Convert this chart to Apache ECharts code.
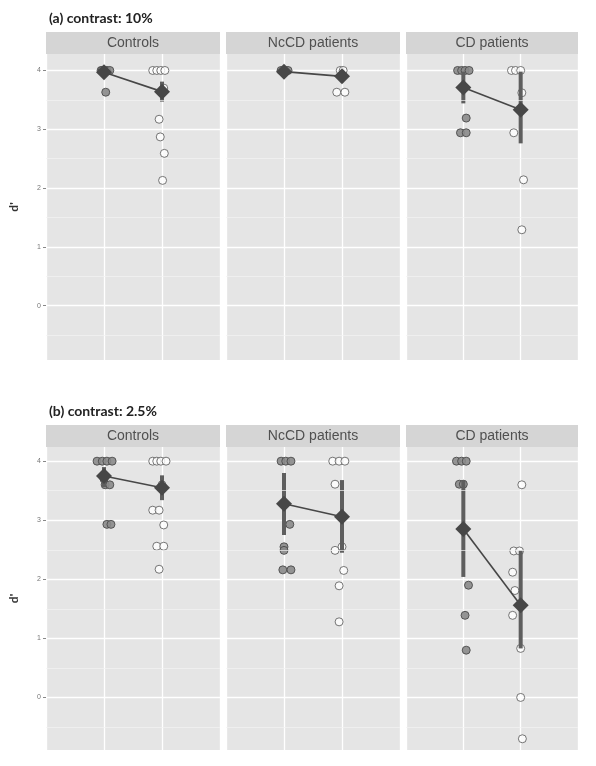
<!DOCTYPE html>
<html>
<head>
<meta charset="utf-8">
<script src="https://cdn.jsdelivr.net/npm/echarts@6/dist/echarts.min.js"></script>
<style>
  html, body { margin: 0; background: #fff; }
  #chart { width: 596px; height: 766px; }
</style>
</head>
<body>
<div id="chart"></div>
<script>
const facets = ['Controls', 'NcCD patients', 'CD patients'];
const rowTitles = ['(a) contrast: 10%', '(b) contrast: 2.5%'];
const yTicks = [0, 1, 2, 3, 4];
const minorLines = [-0.5, 0.5, 1.5, 2.5, 3.5];

// individual scores as [x position incl. jitter, d'], grey = first condition, white = second
const aControlsGrey = [[0.95, 4], [1.0, 4], [1.05, 4], [1.1, 4], [0.97, 4], [1.03, 3.63]];
const aControlsWhite = [[1.84, 4], [1.91, 4], [1.98, 4], [2.05, 4], [2.0, 3.63], [2.03, 3.7], [1.95, 3.17], [1.97, 2.87], [2.04, 2.59], [2.01, 2.13]];
const aNcCDGrey = [[0.95, 4], [1.02, 4], [1.07, 4]];
const aNcCDWhite = [[1.97, 4], [2.02, 4], [1.91, 3.63], [2.05, 3.63]];
const aCDGrey = [[0.9, 4], [0.97, 4], [1.03, 4], [1.1, 4], [1.05, 3.19], [0.95, 2.94], [1.05, 2.94]];
const aCDWhite = [[1.84, 4], [1.91, 4], [2.0, 4], [2.02, 3.62], [1.88, 2.94], [2.05, 2.14], [2.02, 1.29]];

const bControlsGrey = [[0.88, 4], [0.97, 4], [1.05, 4], [1.14, 4], [1.0, 3.7], [1.02, 3.6], [1.1, 3.6], [1.05, 2.93], [1.12, 2.93]];
const bControlsWhite = [[1.84, 4], [1.91, 4], [1.98, 4], [2.07, 4], [2.0, 3.6], [1.84, 3.17], [1.95, 3.17], [2.03, 2.92], [1.91, 2.56], [2.03, 2.56], [1.95, 2.17]];
const bNcCDGrey = [[0.95, 4], [1.03, 4], [1.12, 4], [1.1, 2.93], [1.0, 2.55], [1.0, 2.49], [0.98, 2.16], [1.12, 2.16]];
const bNcCDWhite = [[1.84, 4], [1.95, 4], [2.05, 4], [1.88, 3.61], [2.0, 2.55], [1.88, 2.49], [2.03, 2.15], [1.95, 1.89], [1.95, 1.28]];
const bCDGrey = [[0.88, 4], [0.97, 4], [1.05, 4], [0.93, 3.61], [1.0, 3.61], [1.09, 1.9], [1.03, 1.39], [1.05, 0.8]];
const bCDWhite = [[2.02, 3.6], [1.88, 2.48], [1.98, 2.48], [1.86, 2.12], [1.9, 1.81], [1.86, 1.39], [2.0, 0.83], [2.0, 0], [2.03, -0.7]];

// group means and error-bar limits [low, high] for condition 1 and 2
const aControlsMean = [3.97, 3.64];
const aControlsErr = [[3.93, 4.0], [3.47, 3.81]];
const aNcCDMean = [3.98, 3.9];
const aNcCDErr = [[3.95, 4.0], [3.8, 4.0]];
const aCDMean = [3.71, 3.33];
const aCDErr = [[3.44, 3.98], [2.76, 3.98]];
const bControlsMean = [3.75, 3.55];
const bControlsErr = [[3.56, 3.9], [3.34, 3.76]];
const bNcCDMean = [3.28, 3.06];
const bNcCDErr = [[2.75, 3.8], [2.45, 3.68]];
const bCDMean = [2.85, 1.56];
const bCDErr = [[2.04, 3.68], [0.83, 2.49]];

const panels = [
  [
    { grey: aControlsGrey, white: aControlsWhite, mean: aControlsMean, err: aControlsErr },
    { grey: aNcCDGrey, white: aNcCDWhite, mean: aNcCDMean, err: aNcCDErr },
    { grey: aCDGrey, white: aCDWhite, mean: aCDMean, err: aCDErr },
  ],
  [
    { grey: bControlsGrey, white: bControlsWhite, mean: bControlsMean, err: bControlsErr },
    { grey: bNcCDGrey, white: bNcCDWhite, mean: bNcCDMean, err: bNcCDErr },
    { grey: bCDGrey, white: bCDWhite, mean: bCDMean, err: bCDErr },
  ],
];

// layout
const cols = [{ left: 46, width: 174 }, { left: 226, width: 174 }, { left: 406, width: 172 }];
const rows = [
  { top: 54, height: 306, min: -0.925, max: 4.28, titleTop: 6 },
  { top: 447, height: 303, min: -0.89, max: 4.24, titleTop: 399 },
];
const stripH = 22;

const chart = echarts.init(document.getElementById('chart'));

const grid = [], xAxis = [], yAxis = [], series = [], graphic = [], title = [];

rows.forEach((row, r) => {
  title.push({
    text: rowTitles[r],
    left: 44,
    top: row.titleTop,
    textStyle: { fontFamily: 'Lato', fontWeight: 'bold', fontSize: 14, color: '#222' },
  });
  cols.forEach((col, c) => {
    const idx = r * 3 + c;
    const p = panels[r][c];
    grid.push({
      left: col.left, top: row.top, width: col.width, height: row.height,
      show: true, backgroundColor: '#e5e5e5', borderWidth: 0,
    });
    xAxis.push({
      gridIndex: idx, type: 'value', min: 0, max: 3, interval: 1,
      axisLine: { show: false }, axisTick: { show: false }, axisLabel: { show: false },
      splitLine: { lineStyle: { color: '#fff', width: 1.3 } },
    });
    yAxis.push({
      gridIndex: idx, type: 'value', min: row.min, max: row.max,
      name: c === 0 ? "d'" : '',
      nameLocation: 'middle', nameGap: 26, nameRotate: 90,
      nameTextStyle: { fontFamily: 'Lato', fontWeight: 'bold', fontSize: 12, color: '#333' },
      axisLine: { show: false },
      axisTick: { show: c === 0, length: 3, customValues: yTicks, lineStyle: { color: '#888' } },
      axisLabel: { show: c === 0, customValues: yTicks, fontSize: 7, color: '#777', margin: 5 },
      splitLine: { lineStyle: { color: '#fff', width: 1.3 } },
    });
    graphic.push({
      type: 'rect',
      shape: { x: col.left, y: row.top - stripH, width: col.width, height: stripH },
      style: { fill: '#d5d5d5' },
      silent: true,
    });
    graphic.push({
      type: 'text',
      x: col.left + col.width / 2, y: row.top - stripH / 2,
      style: {
        text: facets[c], fontFamily: 'Liberation Sans', fontSize: 14, fill: '#505050',
        align: 'center', verticalAlign: 'middle',
      },
      silent: true,
    });

    series.push({
      type: 'scatter', xAxisIndex: idx, yAxisIndex: idx, silent: true,
      data: p.grey, symbolSize: 8,
      itemStyle: { color: '#8a8a8a', borderColor: '#4a4a4a', borderWidth: 1, opacity: 0.9 },
      markLine: {
        silent: true, symbol: 'none', label: { show: false },
        lineStyle: { color: '#f3f3f3', width: 0.7, type: 'solid' },
        data: minorLines.map((v) => ({ yAxis: v })),
      },
      z: 3,
    });
    series.push({
      type: 'scatter', xAxisIndex: idx, yAxisIndex: idx, silent: true,
      data: p.white, symbolSize: 8,
      itemStyle: { color: '#ffffff', borderColor: '#555', borderWidth: 1 },
      z: 3,
    });
    series.push({
      type: 'custom', xAxisIndex: idx, yAxisIndex: idx, silent: true,
      data: p.err.map((e, i) => [i + 1, e[0], e[1]]),
      encode: { x: 0, y: [1, 2] },
      renderItem: (params, api) => {
        const lo = api.coord([api.value(0), api.value(1)]);
        const hi = api.coord([api.value(0), api.value(2)]);
        return {
          type: 'line',
          shape: { x1: lo[0], y1: lo[1], x2: hi[0], y2: hi[1] },
          style: { stroke: '#5e5e5e', lineWidth: 4 },
        };
      },
      z: 4,
    });
    series.push({
      type: 'line', xAxisIndex: idx, yAxisIndex: idx, silent: true,
      data: p.mean.map((m, i) => [i + 1, m]),
      symbol: 'diamond', symbolSize: 16, showSymbol: true,
      lineStyle: { color: '#474747', width: 1.6 },
      itemStyle: { color: '#474747', borderWidth: 0 },
      z: 5,
    });
  });
});

chart.setOption({
  animation: false,
  title,
  grid,
  xAxis,
  yAxis,
  series,
  graphic,
});
</script>
</body>
</html>
